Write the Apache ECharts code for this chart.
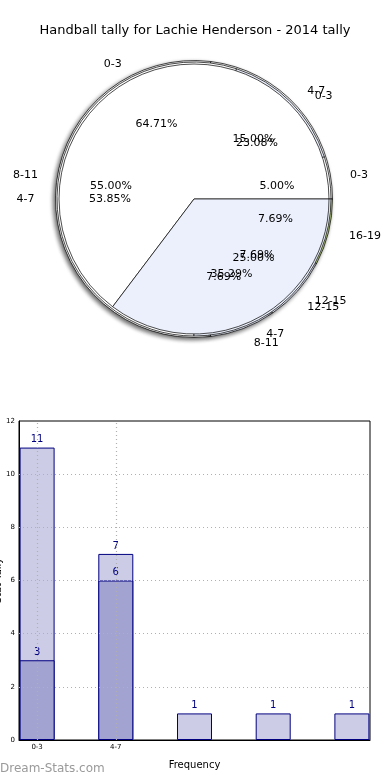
<!DOCTYPE html>
<html>
<head>
<meta charset="utf-8">
<script src="https://cdn.jsdelivr.net/npm/echarts@6/dist/echarts.min.js"></script>
<style>
html,body{margin:0;padding:0;background:#fff;}
#c{width:390px;height:780px;}
</style>
</head>
<body>
<div id="c"></div>
<script>
// ---- data ----
const titleText = 'Handball tally for Lachie Henderson - 2014 tally';
const pieNamesA = ['0-3', '4-7'];
const pieValuesA = [11, 6];
const pieNamesB = ['0-3', '4-7', '8-11', '12-15'];
const pieValuesB = [1, 3, 11, 5];
const pieNamesC = ['0-3', '4-7', '8-11', '12-15', '16-19'];
const pieValuesC = [3, 7, 1, 1, 1];

const barPositions = [0, 1, 2, 3, 4];
const barTickLabels = ['0-3', '4-7', '', '', ''];
const lightBarValues = [11, 7, 1, 1, 1];
const darkBarValues = [3, 6, null, null, null];
const yTicks = [2, 4, 6, 8, 10];
const xGridTicks = [0, 1];

// ---- styles ----
const FONT = 'DejaVu Sans';
const CENTER = [194, 199];
const colorsA = ['#ffffff', '#ebf0fc'];
const colorsB = ['#ffffff', '#ebf0fc', '#ffffff', '#ebf0fc'];
const colorsC = ['#ffffff', '#ffffff', '#ebf0fc', '#ebf0fc', '#c8df8c'];

function mainPie(names, values, colors, R, extraItem) {
  return {
    type: 'pie', center: CENTER, radius: [0, R],
    startAngle: 0, clockwise: false, avoidLabelOverlap: false,
    silent: true, animation: false,
    labelLayout: { hideOverlap: false },
    data: names.map((n, i) => ({ name: n, value: values[i], itemStyle: { color: colors[i] } })),
    itemStyle: Object.assign({ borderColor: '#000', borderWidth: 0.7 }, extraItem || {}),
    label: { show: true, position: 'outside', formatter: '{b}', color: '#000', fontSize: 11, fontFamily: FONT },
    labelLine: { show: false, length: 16, length2: 0 },
    emphasis: { disabled: true }
  };
}
function pctPie(names, values, R) {
  return {
    type: 'pie', center: CENTER, radius: [R * 0.2, R],
    startAngle: 0, clockwise: false, avoidLabelOverlap: false,
    silent: true, animation: false,
    labelLayout: { hideOverlap: false },
    data: names.map((n, i) => ({ name: n, value: values[i] })),
    itemStyle: { color: 'rgba(0,0,0,0)', borderWidth: 0 },
    label: { show: true, position: 'inside', color: '#000', fontSize: 11, fontFamily: FONT,
      formatter: p => p.percent.toFixed(2) + '%' },
    labelLine: { show: false },
    emphasis: { disabled: true }
  };
}

const chart = echarts.init(document.getElementById('c'));
chart.setOption({
  animation: false,
  title: { text: titleText, left: 'center', top: 19,
    textStyle: { fontSize: 13, fontWeight: 'normal', color: '#000', fontFamily: FONT } },
  grid: { left: 19, right: 20, top: 421, bottom: 40, containLabel: false, outerBoundsMode: 'none',
    show: true, borderColor: '#000', borderWidth: 1, backgroundColor: 'transparent' },
  xAxis: {
    type: 'value', min: -0.23, max: 4.23,
    name: 'Frequency', nameLocation: 'middle', nameGap: 20,
    nameTextStyle: { fontSize: 10, color: '#000', fontFamily: FONT },
    axisLine: { show: true, onZero: false, lineStyle: { color: '#000' } },
    axisTick: { show: false },
    splitLine: { show: false },
    axisLabel: { fontSize: 7, color: '#000', fontFamily: FONT, margin: 4,
      formatter: v => (Number.isInteger(v) && barTickLabels[v]) ? barTickLabels[v] : '' }
  },
  yAxis: {
    type: 'value', min: 0, max: 12, interval: 2,
    name: 'Stat Tally', nameLocation: 'middle', nameGap: 16, nameMoveOverlap: false,
    nameTextStyle: { fontSize: 10, color: '#000', fontFamily: FONT },
    axisLine: { show: true, onZero: false, lineStyle: { color: '#000' } },
    axisTick: { show: false },
    splitLine: { show: false },
    axisLabel: { fontSize: 7, color: '#000', fontFamily: FONT, margin: 4 }
  },
  graphic: [{
    type: 'text', left: 0, top: 763,
    style: { text: 'Dream-Stats.com', fontSize: 12, fontFamily: FONT, fill: '#9a9a9a' }
  }],
  series: [
    mainPie(pieNamesC, pieValuesC, colorsC, 138.5, { shadowBlur: 4, shadowColor: 'rgba(0,0,0,0.6)', shadowOffsetX: -2, shadowOffsetY: 2 }),
    mainPie(pieNamesB, pieValuesB, colorsB, 137),
    mainPie(pieNamesA, pieValuesA, colorsA, 135),
    pctPie(pieNamesC, pieValuesC, 135),
    pctPie(pieNamesB, pieValuesB, 135),
    pctPie(pieNamesA, pieValuesA, 135),
    {
      type: 'bar', barWidth: 35, silent: true,
      data: barPositions.map((x, i) => [x, lightBarValues[i]]),
      itemStyle: { color: '#ccccE6', borderColor: '#000080', borderWidth: 1 },
      label: { show: true, position: 'top', color: '#000080', fontSize: 10, fontFamily: FONT, distance: 3,
        formatter: p => p.value[1] },
      z: 2
    },
    {
      type: 'bar', barWidth: 35, barGap: '-100%', silent: true,
      data: barPositions.map((x, i) => [x, darkBarValues[i]]),
      itemStyle: { color: '#a3a3d1', borderColor: '#000080', borderWidth: 1 },
      label: { show: true, position: 'top', color: '#000080', fontSize: 10, fontFamily: FONT, distance: 3,
        formatter: p => p.value[1] },
      markLine: {
        silent: true, symbol: 'none', label: { show: false },
        lineStyle: { color: '#b0b0b0', type: [1, 3], width: 1.2 },
        data: yTicks.map(v => ({ yAxis: v })).concat(xGridTicks.map(v => ({ xAxis: v })))
      },
      z: 3
    }
  ]
});
</script>
</body>
</html>
